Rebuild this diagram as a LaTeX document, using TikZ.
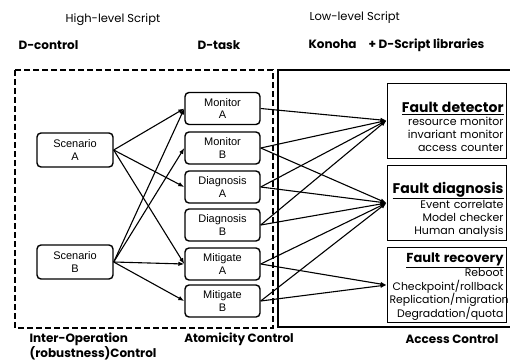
\documentclass[tikz,border=0pt]{standalone}
\usepackage{fontspec}
\setmainfont{Liberation Sans}
\newfontfamily\gothic{Poppins}
\usetikzlibrary{arrows.meta}

\begin{document}
\begin{tikzpicture}[x=1pt,y=-1pt,
    >={Latex[length=6pt,width=4.5pt]},
    task/.style={draw, line width=1.4pt, rounded corners=4pt, minimum width=75pt, minimum height=32pt, align=center, inner sep=0pt, font=\fontsize{11}{12.5}\selectfont},
    fault/.style={draw, line width=1pt, minimum height=75pt, text width=114pt, inner xsep=2.5pt, inner ysep=0pt, align=right, font=\gothic\fontsize{11}{13}\selectfont},
    hdr/.style={font=\gothic\fontsize{11.5}{13}\selectfont},
    bhdr/.style={font=\gothic\bfseries\fontsize{12}{15.5}\selectfont},
    link/.style={->, line width=1.1pt}]
  \useasboundingbox (0,0) rectangle (510,361);

  % headers
  \node[hdr] (high) at (113,20) {High-level Script};
  \node[hdr, anchor=west] (low) at (306,18) {Low-level Script};
  \node[bhdr, anchor=west] (dctl) at (15,45) {D-control};
  \node[bhdr, anchor=west] (dtask) at (194,45) {D-task};
  \node[bhdr, anchor=west] (konoha) at (305,45) {Konoha\quad+\ D-Script libraries};

  % frames
  \draw[dashed, line width=2pt, dash pattern=on 6pt off 3pt] (15,70) rectangle (273,328);
  \draw[line width=1.2pt] (512,70) -| (278,327) -- (512,327);

  % D-control scenarios
  \node[task, minimum width=76pt, minimum height=34pt] (sa) at (75,150) {Scenario\\A};
  \node[task, minimum width=76pt, minimum height=34pt] (sb) at (75,262) {Scenario\\B};

  % D-task boxes
  \node[task] (ma) at (222.5,108.5) {Monitor\\A};
  \node[task] (mb) at (222.5,148) {Monitor\\B};
  \node[task] (da) at (222.5,187) {Diagnosis\\A};
  \node[task] (db) at (222.5,225) {Diagnosis\\B};
  \node[task] (ga) at (222.5,264) {Mitigate\\A};
  \node[task] (gb) at (222.5,301) {Mitigate\\B};

  % libraries
  \node[fault] (det) at (446.5,120.5) {\rule{0pt}{24pt}{\fontsize{14}{13}\selectfont\bfseries\underline{Fault detector}}\\
    resource monitor\\ invariant monitor\\ access counter};
  \node[fault] (diag) at (446.5,203) {\rule{0pt}{24pt}{\fontsize{14}{13}\selectfont\bfseries\underline{Fault diagnosis}}\\
    Event correlate\\ Model checker\\ Human analysis};
  \node[fault, font=\gothic\fontsize{10.9}{13.5}\selectfont] (rec) at (446.5,285) {\rule{0pt}{12pt}{\fontsize{13}{13}\selectfont\bfseries\underline{Fault recovery}}\\
    Reboot\\ Checkpoint/rollback\\ Replication/migration\\ Degradation/quota};

  % scenario -> task
  \draw[link] (sa.east) -- (ma.west);
  \draw[link] (sa.east) -- (da.west);
  \draw[link] (sa.east) -- (ga.west);
  \draw[link] (sb.east) -- (ma.west);
  \draw[link] (sb.east) -- (mb.west);
  \draw[link] (sb.east) -- (ga.west);
  \draw[link] (sb.east) -- (gb.west);

  % task -> library
  \draw[link] (ma.east) -- (det.west);
  \draw[link] (mb.east) -- (det.west);
  \draw[link] (mb.east) -- (diag.west);
  \draw[link] (da.east) -- (det.west);
  \draw[link] (da.east) -- (diag.west);
  \draw[link] (db.east) -- (det.west);
  \draw[link] (db.east) -- (diag.west);
  \draw[link] (ga.east) -- (diag.west);
  \draw[link] (ga.east) -- (rec.west);
  \draw[link] (gb.east) -- (diag.west);
  \draw[link] (gb.east) -- (rec.west);

  % bottom labels
  \node[bhdr, anchor=north west, align=left] (inter) at (26,329) {Inter-Operation\\(robustness)Control};
  \node[bhdr] (atom) at (239,339) {Atomicity Control};
  \node[bhdr] (acc) at (452,339) {Access Control};
\end{tikzpicture}
\end{document}
